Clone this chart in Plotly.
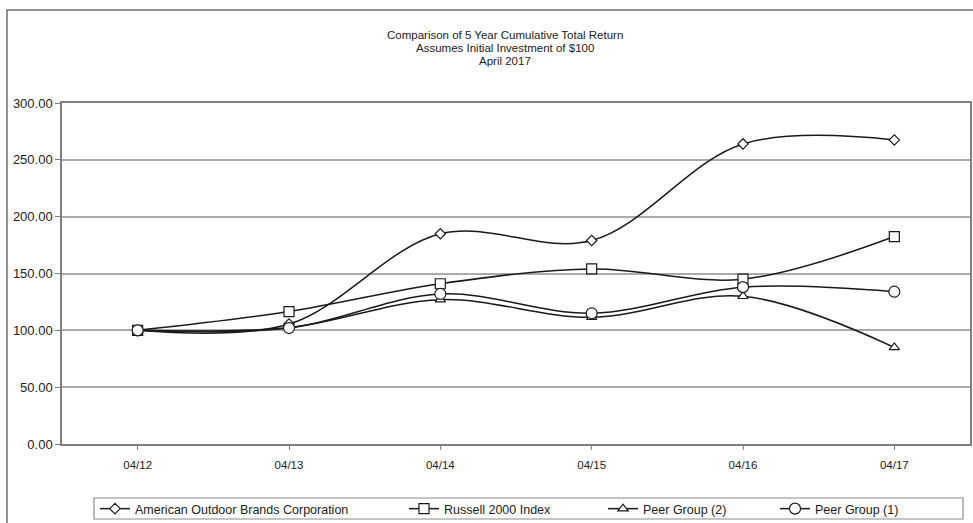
import plotly.graph_objects as go

categories = ["04/12", "04/13", "04/14", "04/15", "04/16", "04/17"]
aobc = [100.00, 105.50, 185.00, 179.00, 264.00, 267.50]
russell = [100.00, 116.50, 141.00, 154.00, 145.00, 182.50]
peer2 = [100.00, 102.50, 127.00, 111.50, 130.00, 85.00]
peer1 = [100.00, 102.00, 132.00, 115.00, 138.00, 134.00]

series_names = ["American Outdoor Brands Corporation", "Russell 2000 Index",
                "Peer Group (2)", "Peer Group (1)"]
series_values = [aobc, russell, peer2, peer1]
symbols = ["diamond", "square", "triangle-up", "circle"]
sizes = [8, 10, 9, 11]

W, H = 973, 523
L, R, T, B = 62, 3, 103, 79
pw = W - L - R
ph = H - T - B

def px(x):
    return (x - L) / pw

def py(y):
    return (H - B - y) / ph

FONT = "Liberation Sans, Arial, sans-serif"
fig = go.Figure()

legend_x = [95, 404, 603, 775]
legend_keys = ["legend", "legend2", "legend3", "legend4"]
for name, vals, sym, sz, lk in zip(series_names, series_values, symbols, sizes, legend_keys):
    fig.add_trace(go.Scatter(
        x=categories, y=vals, name=name, mode="lines+markers",
        line=dict(color="#1a1a1a", width=1.5, shape="spline", smoothing=1.0),
        marker=dict(symbol=sym, size=sz, color="white",
                    line=dict(color="#1a1a1a", width=1.2)),
        legend=lk,
    ))

leg_common = dict(orientation="h", yanchor="middle", xanchor="left",
                  font=dict(family=FONT, size=12.5, color="#222"),
                  bgcolor="rgba(0,0,0,0)", itemwidth=30, tracegroupgap=0)
layout_legends = {}
for lk, lx in zip(legend_keys, legend_x):
    layout_legends[lk] = dict(x=px(lx), y=py(509), **leg_common)

fig.update_layout(
    width=W, height=H,
    margin=dict(l=L, r=R, t=T, b=B, autoexpand=False),
    paper_bgcolor="white", plot_bgcolor="white",
    font=dict(family=FONT, size=11, color="#222"),
    showlegend=True,
    **layout_legends,
    xaxis=dict(type="category", range=[-0.5, 5.5], showgrid=False,
               showline=True, linecolor="#7f7f7f", linewidth=1.5, mirror=True,
               ticks="outside", ticklen=4, tickcolor="#7f7f7f",
               ticklabelstandoff=5, tickfont=dict(size=11.5, family=FONT, color="#222"),
               zeroline=False, automargin=False),
    yaxis=dict(range=[0, 300], dtick=50, tickformat=".2f", showgrid=True,
               gridcolor="#ababab", gridwidth=1.5,
               showline=True, linecolor="#7f7f7f", linewidth=1.5, mirror=True,
               ticks="outside", ticklen=5, tickcolor="#7f7f7f",
               tickfont=dict(size=13, family=FONT, color="#222"),
               zeroline=False, automargin=False),
)

# Title lines
for txt, yy in [("Comparison of 5 Year Cumulative Total Return", 35),
                ("Assumes Initial Investment of $100", 48),
                ("April 2017", 61)]:
    fig.add_annotation(text=txt, x=px(505), y=py(yy), xref="paper", yref="paper",
                       xanchor="center", yanchor="middle", showarrow=False,
                       font=dict(family=FONT, size=11.5, color="#222"))

# Outer chart frame
fig.add_shape(type="rect", xref="paper", yref="paper",
              x0=px(7), x1=px(990), y0=py(540), y1=py(10),
              line=dict(color="#6e6e6e", width=1.5), layer="below")
# Legend box
fig.add_shape(type="rect", xref="paper", yref="paper",
              x0=px(94), x1=px(963), y0=py(519), y1=py(498),
              line=dict(color="#8c8c8c", width=1.2), layer="below")

fig.write_html("out.html")
